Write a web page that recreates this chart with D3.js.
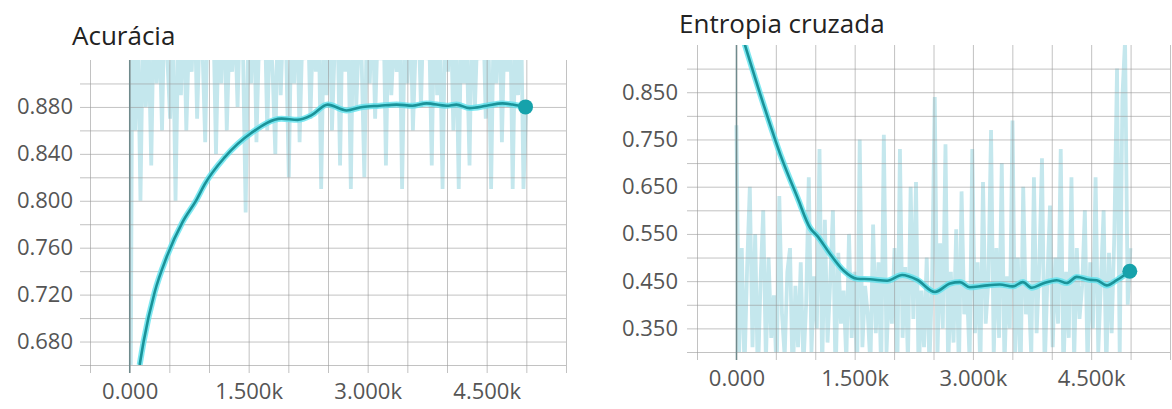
<!DOCTYPE html>
<html>
<head>
<meta charset="utf-8">
<script src="https://cdn.jsdelivr.net/npm/d3@7"></script>
<style>
	body { margin: 0; background: #fff; }
	svg { display: block; font-family: "Open Sans", sans-serif; }
</style>
</head>
<body>
<script>
//raw values are logged every 34 steps
var rawInterval = 34;

var accRaw = [
	0.42, 0.97, 0.86, 0.95, 0.80, 0.96, 0.88, 0.94, 0.83, 0.97,
	0.90, 0.95, 0.86, 0.98, 0.92, 0.87, 0.96, 0.80, 0.94, 0.89,
	0.97, 0.86, 0.94, 0.91, 0.98, 0.87, 0.95, 0.93, 0.85, 0.97,
	0.92, 0.96, 0.84, 0.95, 0.90, 0.98, 0.86, 0.94, 0.91, 0.96,
	0.88, 0.97, 0.93, 0.79, 0.95, 0.90, 0.98, 0.85, 0.94, 0.92,
	0.97, 0.86, 0.95, 0.91, 0.84, 0.98, 0.89, 0.96, 0.93, 0.82,
	0.96, 0.90, 0.98, 0.85, 0.94, 0.92, 0.97, 0.87, 0.95, 0.91,
	0.97, 0.81, 0.95, 0.89, 0.98, 0.86, 0.93, 0.96, 0.83, 0.97,
	0.91, 0.95, 0.81, 0.98, 0.88, 0.94, 0.92, 0.82, 0.96, 0.90,
	0.97, 0.87, 0.95, 0.92, 0.98, 0.83, 0.96, 0.89, 0.94, 0.91,
	0.97, 0.81, 0.95, 0.90, 0.98, 0.86, 0.93, 0.96, 0.88, 0.97,
	0.92, 0.95, 0.83, 0.98, 0.89, 0.94, 0.81, 0.96, 0.91, 0.97,
	0.86, 0.95, 0.81, 0.97, 0.90, 0.93, 0.83, 0.98, 0.88, 0.95,
	0.92, 0.97, 0.87, 0.94, 0.81, 0.96, 0.90, 0.98, 0.85, 0.95,
	0.91, 0.97, 0.81, 0.95, 0.89, 0.98, 0.81, 0.88
];

var accSmoothSteps = [126, 176, 315, 466, 668, 844, 945, 1197, 1537, 1915, 2117, 2293, 2495, 2734, 2936, 3150, 3364, 3566, 3742, 3994, 4120, 4284, 4498, 4700, 4826, 4990];
var accSmooth = [0.660, 0.680, 0.722, 0.752, 0.782, 0.801, 0.814, 0.837, 0.858, 0.870, 0.869, 0.873, 0.882, 0.877, 0.880, 0.881, 0.882, 0.881, 0.883, 0.881, 0.882, 0.879, 0.881, 0.883, 0.882, 0.880];

var lossRaw = [
	0.78, 0.30, 0.52, 0.26, 0.48, 0.65, 0.31, 0.55, 0.24, 0.45,
	0.60, 0.28, 0.50, 0.33, 0.42, 0.25, 0.63, 0.38, 0.29, 0.47,
	0.52, 0.23, 0.44, 0.31, 0.49, 0.27, 0.40, 0.67, 0.30, 0.46,
	0.35, 0.73, 0.26, 0.58, 0.32, 0.45, 0.60, 0.24, 0.51, 0.36,
	0.43, 0.28, 0.55, 0.33, 0.47, 0.25, 0.75, 0.31, 0.44, 0.38,
	0.27, 0.57, 0.34, 0.49, 0.26, 0.76, 0.30, 0.45, 0.36, 0.52,
	0.25, 0.73, 0.33, 0.48, 0.28, 0.65, 0.37, 0.66, 0.24, 0.43,
	0.31, 0.50, 0.27, 0.45, 0.84, 0.29, 0.53, 0.35, 0.74, 0.26,
	0.47, 0.32, 0.56, 0.25, 0.64, 0.38, 0.44, 0.28, 0.73, 0.34,
	0.49, 0.26, 0.66, 0.36, 0.45, 0.77, 0.29, 0.52, 0.33, 0.70,
	0.27, 0.46, 0.35, 0.79, 0.30, 0.50, 0.24, 0.65, 0.38, 0.44,
	0.29, 0.67, 0.34, 0.48, 0.71, 0.26, 0.45, 0.61, 0.31, 0.50,
	0.36, 0.73, 0.25, 0.47, 0.33, 0.67, 0.28, 0.52, 0.37, 0.44,
	0.60, 0.27, 0.49, 0.35, 0.67, 0.30, 0.45, 0.60, 0.26, 0.51,
	0.34, 0.55, 0.90, 0.29, 0.84, 0.96, 0.40, 0.52
];

var lossSmoothSteps = [63, 342, 557, 772, 937, 1025, 1190, 1355, 1532, 1696, 1912, 2102, 2291, 2519, 2709, 2836, 2962, 3127, 3342, 3507, 3633, 3747, 3887, 4064, 4190, 4317, 4481, 4570, 4697, 4823, 4990];
var lossSmooth = [0.975, 0.825, 0.718, 0.628, 0.562, 0.546, 0.507, 0.473, 0.455, 0.454, 0.451, 0.463, 0.453, 0.427, 0.445, 0.448, 0.437, 0.440, 0.443, 0.439, 0.448, 0.436, 0.445, 0.452, 0.446, 0.459, 0.453, 0.452, 0.441, 0.452, 0.471];

var stepGrid = [-500, 0, 500, 1000, 1500, 2000, 2500, 3000, 3500, 4000, 4500, 5000, 5500];
var stepLabels = [0, 1500, 3000, 4500];

var accGrid = [0.66, 0.68, 0.70, 0.72, 0.74, 0.76, 0.78, 0.80, 0.82, 0.84, 0.86, 0.88, 0.90];
var accLabels = [0.68, 0.72, 0.76, 0.80, 0.84, 0.88];

var lossGrid = [0.30, 0.35, 0.40, 0.45, 0.50, 0.55, 0.60, 0.65, 0.70, 0.75, 0.80, 0.85, 0.90];
var lossLabels = [0.35, 0.45, 0.55, 0.65, 0.75, 0.85];

var svg = d3.select("body").append("svg")
	.attr("width", 1172)
	.attr("height", 409);

function stepFormat(d){
	if(d == 0)
		return "0.000";
	return d3.format(".3f")(d/1000) + "k";
}

function drawChart(c){
	var x = d3.scaleLinear().domain([-500, 5500]).range([c.left, c.right]);
	var y = d3.scaleLinear().domain(c.yDomain).range([c.bottom, c.top]);
	var g = svg.append("g");

	g.append("clipPath").attr("id", c.id + "clip")
		.append("rect")
		.attr("x", c.left).attr("y", c.top)
		.attr("width", c.right - c.left).attr("height", c.bottom - c.top);

	var plot = g.append("g").attr("clip-path", "url(#" + c.id + "clip)");

	var raw = c.raw.map(function(v, i){ return [i*rawInterval, v]; });
	var line = d3.line().x(function(d){ return x(d[0]); }).y(function(d){ return y(d[1]); });

	plot.append("path")
		.attr("d", line(raw))
		.attr("fill", "none")
		.attr("stroke", "#c4e7ed")
		.attr("stroke-width", 3.8)
		.attr("stroke-linejoin", "bevel");

	//horizontal grid, with the tick stubs on the left
	g.append("g")
		.attr("transform", "translate(" + (c.left - 10) + ",0)")
		.call(d3.axisLeft(y).tickValues(c.grid).tickSize(-(c.right - c.left + 10)).tickFormat(""))
		.call(function(a){ a.select(".domain").remove(); })
		.selectAll("line").attr("stroke", "#9a9a9a").attr("stroke-opacity", 0.6);

	//vertical grid, stubs below
	g.append("g")
		.attr("transform", "translate(0," + (c.bottom + 8) + ")")
		.call(d3.axisBottom(x).tickValues(stepGrid).tickSize(-(c.bottom - c.top + 8)).tickFormat(""))
		.call(function(a){ a.select(".domain").remove(); })
		.selectAll("line").attr("stroke", "#9a9a9a").attr("stroke-opacity", 0.6);

	//zero step line is darker
	g.append("line")
		.attr("x1", x(0)).attr("x2", x(0))
		.attr("y1", c.top).attr("y2", c.bottom + 8)
		.attr("stroke", "#6f8a8c")
		.attr("stroke-width", 1.4);

	var smooth = c.smoothSteps.map(function(s, i){ return [s, c.smooth[i]]; });
	var curve = d3.line().curve(d3.curveMonotoneX)
		.x(function(d){ return x(d[0]); }).y(function(d){ return y(d[1]); });

	var top = g.append("g").attr("clip-path", "url(#" + c.id + "clip)");
	top.append("path")
		.attr("d", curve(smooth))
		.attr("fill", "none")
		.attr("stroke", "#5fe2ee")
		.attr("stroke-width", 6)
		.attr("stroke-linejoin", "round")
		.attr("stroke-opacity", 0.8);
	top.append("path")
		.attr("d", curve(smooth))
		.attr("fill", "none")
		.attr("stroke", "#1a9399")
		.attr("stroke-width", 2.6)
		.attr("stroke-linejoin", "round");

	var last = smooth[smooth.length - 1];
	g.append("circle")
		.attr("cx", x(last[0])).attr("cy", y(last[1]))
		.attr("r", 7.5)
		.attr("fill", "#16a2ab");

	//tick labels
	g.append("g")
		.attr("transform", "translate(" + c.labelRight + ",0)")
		.call(d3.axisLeft(y).tickValues(c.labels).tickSize(0).tickPadding(0).tickFormat(d3.format(".3f")))
		.call(function(a){ a.select(".domain").remove(); })
		.selectAll("text")
		.attr("fill", "#555")
		.style("font-size", "22px")
		.style("font-family", "'Open Sans', sans-serif");

	g.append("g")
		.attr("transform", "translate(0," + (c.bottom + 18) + ")")
		.call(d3.axisBottom(x).tickValues(stepLabels).tickSize(0).tickPadding(0).tickFormat(stepFormat))
		.call(function(a){ a.select(".domain").remove(); })
		.selectAll("text")
		.attr("fill", "#555")
		.style("font-size", "22px")
		.style("font-family", "'Open Sans', sans-serif");

	g.append("text")
		.attr("x", c.titleX).attr("y", c.titleY)
		.attr("fill", "#222")
		.style("font-size", "26px")
		.text(c.title);
}

drawChart({
	id: "acc", title: "Acurácia", titleX: 72, titleY: 45,
	left: 90, right: 566, top: 60, bottom: 365, labelRight: 73,
	yDomain: [0.66, 0.92], grid: accGrid, labels: accLabels,
	raw: accRaw, smoothSteps: accSmoothSteps, smooth: accSmooth
});

drawChart({
	id: "loss", title: "Entropia cruzada", titleX: 679, titleY: 33,
	left: 697, right: 1170, top: 45, bottom: 352, labelRight: 678,
	yDomain: [0.30, 0.95], grid: lossGrid, labels: lossLabels,
	raw: lossRaw, smoothSteps: lossSmoothSteps, smooth: lossSmooth
});
</script>
</body>
</html>
